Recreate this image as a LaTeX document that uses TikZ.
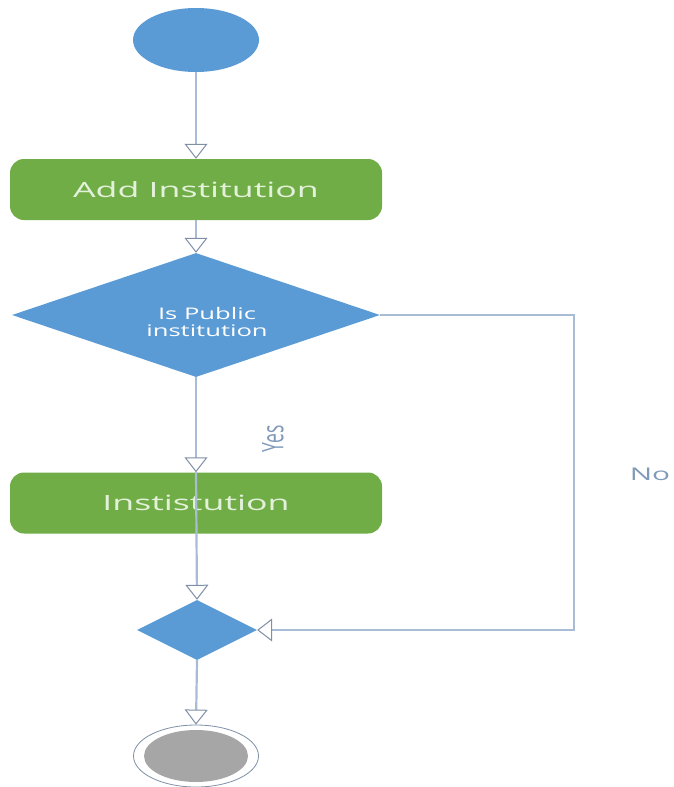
\documentclass[tikz,border=0pt]{standalone}
\usepackage{fontspec}
\setmainfont{Open Sans}
\usetikzlibrary{arrows.meta,shapes.geometric}

\definecolor{fillblue}{HTML}{5B9BD5}
\definecolor{fillgreen}{HTML}{70AD47}
\definecolor{linkblue}{HTML}{A9BCD6}
\definecolor{tipgray}{HTML}{7F8FA6}
\definecolor{labelblue}{HTML}{7F9AB8}
\definecolor{boxtext}{HTML}{E4F1DA}
\definecolor{endgray}{HTML}{A6A6A6}

% wide lettering used throughout the chart
\newcommand\widetext[2][1.7]{\scalebox{#1}[1]{#2}}

\begin{document}
\begin{tikzpicture}[x=1pt,y=-1pt,
  startnode/.style={ellipse, fill=fillblue, inner sep=0pt,
    minimum width=126pt, minimum height=64pt},
  actbox/.style={rectangle, rounded corners=14pt, fill=fillgreen, inner sep=0pt,
    minimum width=372pt, minimum height=61pt, text=boxtext,
    font=\fontsize{21}{24}\selectfont},
  decision/.style={diamond, fill=fillblue, inner sep=0pt, text=white,
    font=\fontsize{16}{19}\selectfont, align=center},
  endring/.style={ellipse, draw=tipgray, line width=0.8pt, fill=white, inner sep=0pt,
    minimum width=125pt, minimum height=62pt},
  endcore/.style={ellipse, fill=endgray, inner sep=0pt,
    minimum width=104pt, minimum height=52pt},
  flow/.style={draw=linkblue, line width=2.2pt,
    -{Triangle[length=15pt, width=23pt, fill=white, color=tipgray, line width=1pt]}},
  plainflow/.style={draw=linkblue, line width=2.2pt},
  edgelabel/.style={text=labelblue, font=\fontsize{17.5}{20}\selectfont, inner sep=0pt}
]
\useasboundingbox (0,0) rectangle (674,787);

% nodes
\node[startnode] (start) at (196,40) {};
\node[actbox] (add) at (196,189.5) {\widetext{Add Institution}};
\node[decision, minimum width=368pt, minimum height=124pt] (dec) at (196,315) {};
\node[text=white, font=\fontsize{16}{19}\selectfont, align=center, inner sep=0pt]
  (dectext) at (207,322) {\widetext[1.6]{Is Public}\\[-2pt]\widetext[1.6]{institution}};
\node[actbox] (inst) at (196,503) {\widetext{Instistution}};
\node[decision, minimum width=120pt, minimum height=60pt] (merge) at (197,630) {};
\node[endring] (stop) at (196,756) {};
\node[endcore] (stopcore) at (stop.center) {};

% bend points of the "No" branch
\coordinate (noA) at (574,315);
\coordinate (noB) at (574,630);

% connectors
\draw[flow] (start.south) -- (add.north);
\draw[flow] (add.south) -- (dec.north);
\draw[flow] (dec.south) -- (inst.north);
\draw[flow] (inst.north) -- (merge.north);
\draw[flow] (dec.east) -- (noA) -- (noB) -- (merge.east);
\draw[flow] (merge.south) -- (stop.north);

% labels
\node[edgelabel] (yes) at (273,439) {\widetext{\rotatebox{90}{Yes}}};
\node[edgelabel] (no) at (650,474) {\widetext{No}};
\end{tikzpicture}
\end{document}
